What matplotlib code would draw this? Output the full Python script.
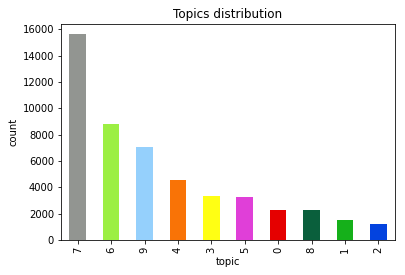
import matplotlib
matplotlib.use("Agg")
import matplotlib.pyplot as plt
import numpy as np

topics = ['7', '6', '9', '4', '3', '5', '0', '8', '1', '2']
counts = [15620, 8840, 7050, 4560, 3350, 3270, 2290, 2270, 1530, 1210]
colors = ['#929591', '#9cef43', '#95d0fc', '#f97306', '#ffff14',
          '#e03fd8', '#e50000', '#0a5f3c', '#15b01a', '#0343df']

fig = plt.figure(figsize=(405/72, 275/72), dpi=72)
ax = fig.add_axes([61/405, 35/275, 334/405, 216/275])

x = np.arange(len(topics))
ax.bar(x, counts, width=0.5, color=colors)
ax.set_xlim(-0.5, len(topics) - 0.5)
ax.set_ylim(0, 16400)
ax.set_xticks(x)
ax.set_xticklabels(topics, rotation=90)
ax.set_yticks(range(0, 16001, 2000))
ax.set_xlabel('topic')
ax.set_ylabel('count')
ax.set_title('Topics distribution')

fig.savefig('out.png', dpi=72)
